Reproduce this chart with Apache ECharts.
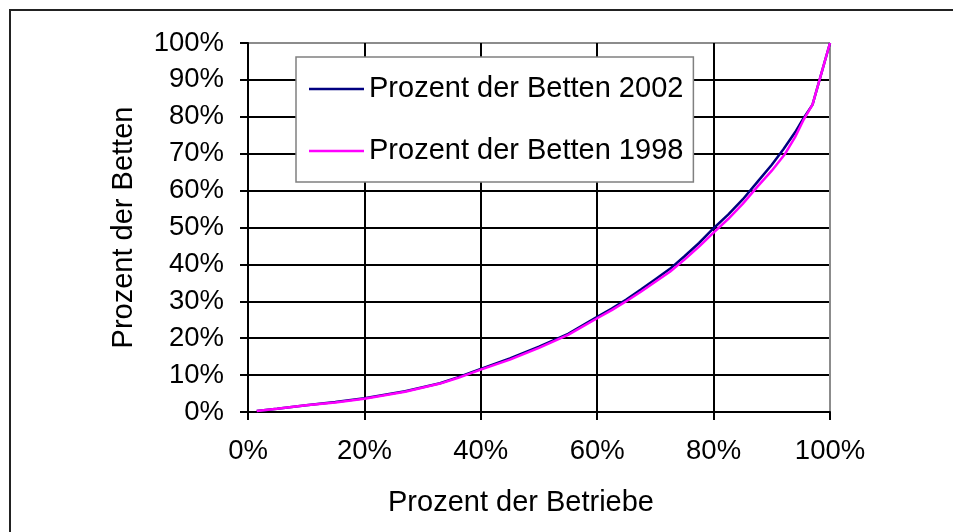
<!DOCTYPE html>
<html>
<head>
<meta charset="utf-8">
<title>Prozent der Betten</title>
<script src="https://cdn.jsdelivr.net/npm/echarts@6/dist/echarts.min.js"></script>
<style>
  html, body {
    margin: 0;
    padding: 0;
    background: #fff;
  }
  #chart {
    width: 953px;
    height: 532px;
  }
</style>
</head>
<body>
<div id="chart"></div>
<script>
// Prozent der Betriebe (x) und Prozent der Betten (y)
var betriebe2002 = [1.5, 5, 10, 15, 20, 27, 33, 36, 40, 45, 50, 55, 60, 62.5, 65, 67.5, 70, 72.5, 75, 77.5, 80, 82.5, 85, 87.5, 90, 92, 94, 95.4, 97, 100];
var betten2002   = [0.3, 0.9, 1.8, 2.7, 3.7, 5.6, 7.8, 9.4, 11.7, 14.5, 17.7, 21.2, 25.8, 28, 30.5, 33.2, 36, 38.8, 42.2, 45.8, 49.8, 53.5, 57.6, 62.3, 67, 71.2, 75.8, 79.5, 83.3, 100];

var betriebe1998 = [1.5, 5, 10, 15, 20, 27, 33, 36, 40, 45, 50, 55, 60, 62.5, 65, 67.5, 70, 72.5, 75, 77.5, 80, 82.5, 85, 87.5, 90, 92.3, 94, 95.4, 97, 100];
var betten1998   = [0.3, 0.9, 1.8, 2.6, 3.6, 5.5, 7.7, 9.2, 11.5, 14.2, 17.4, 20.9, 25.4, 27.6, 30, 32.6, 35.3, 38, 41.3, 44.8, 48.6, 52.3, 56.4, 61, 65.4, 70, 74.5, 79, 83.3, 100];

var xTicks = [0, 20, 40, 60, 80, 100];
var yTicks = [0, 10, 20, 30, 40, 50, 60, 70, 80, 90, 100];

function toPairs(xs, ys) {
  var out = [];
  for (var i = 0; i < xs.length; i++) {
    out.push([xs[i], ys[i]]);
  }
  return out;
}

// letzte Gitterlinie (oben / rechts) grau wie der Rahmen
function gridColors(ticks) {
  return ticks.map(function(t, i) {
    return i === ticks.length - 1 ? "#8c8c8c" : "#000";
  });
}

var font = "Liberation Sans, Arial, sans-serif";

var option = {
  animation: false,
  backgroundColor: "#fff",
  graphic: [
    {
      type: "polyline",
      shape: { points: [[10, 560], [10, 10], [980, 10]] },
      style: { fill: null, stroke: "#222", lineWidth: 2 },
      silent: true
    }
  ],
  grid: {
    left: 248,
    top: 43,
    right: 123,
    bottom: 120,
    containLabel: false
  },
  legend: {
    orient: "vertical",
    left: 296,
    top: 57,
    padding: [17, 10, 16, 13],
    itemGap: 32,
    itemWidth: 55,
    itemHeight: 2.5,
    icon: "rect",
    backgroundColor: "#fff",
    borderColor: "#808080",
    borderWidth: 1.5,
    borderRadius: 0,
    textStyle: {
      fontFamily: font,
      fontSize: 29,
      lineHeight: 30,
      color: "#000"
    },
    data: ["Prozent der Betten 2002", "Prozent der Betten 1998"]
  },
  xAxis: {
    type: "value",
    min: 0,
    max: 100,
    interval: 20,
    name: "Prozent der Betriebe",
    nameLocation: "middle",
    nameGap: 76,
    nameTextStyle: { fontFamily: font, fontSize: 29, color: "#000", padding: [0, 36, 0, 0] },
    axisLine: { lineStyle: { color: "#000", width: 2 } },
    axisTick: { show: true, length: 8, lineStyle: { color: "#000", width: 2 } },
    axisLabel: {
      margin: 25,
      fontFamily: font,
      fontSize: 27.5,
      color: "#000",
      formatter: "{value}%"
    },
    splitLine: {
      show: true,
      lineStyle: { color: gridColors(xTicks), width: 2 }
    }
  },
  yAxis: {
    type: "value",
    min: 0,
    max: 100,
    interval: 10,
    name: "Prozent der Betten",
    nameLocation: "middle",
    nameGap: 110,
    nameTextStyle: { fontFamily: font, fontSize: 29, color: "#000" },
    axisLine: { show: true, lineStyle: { color: "#000", width: 2 } },
    axisTick: { show: true, length: 8, lineStyle: { color: "#000", width: 2 } },
    axisLabel: {
      margin: 24,
      fontFamily: font,
      fontSize: 27.5,
      color: "#000",
      formatter: "{value}%"
    },
    splitLine: {
      show: true,
      lineStyle: { color: gridColors(yTicks), width: 2 }
    }
  },
  series: [
    {
      name: "Prozent der Betten 2002",
      type: "line",
      symbol: "none",
      color: "#000080",
      lineStyle: { color: "#000080", width: 2.5 },
      data: toPairs(betriebe2002, betten2002)
    },
    {
      name: "Prozent der Betten 1998",
      type: "line",
      symbol: "none",
      color: "#ff00ff",
      lineStyle: { color: "#ff00ff", width: 2.5 },
      data: toPairs(betriebe1998, betten1998)
    }
  ]
};

var myChart = echarts.init(document.getElementById("chart"));
myChart.setOption(option);
</script>
</body>
</html>
